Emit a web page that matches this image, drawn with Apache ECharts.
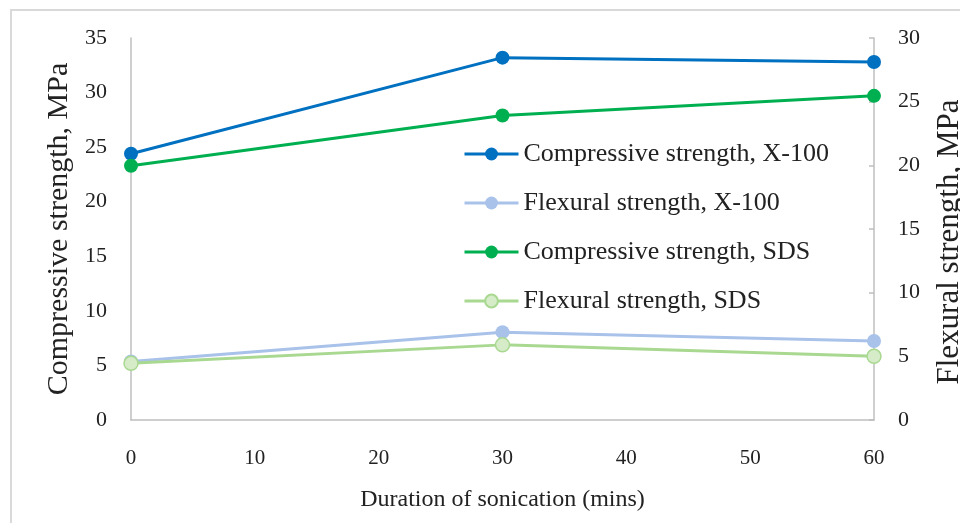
<!DOCTYPE html>
<html>
<head>
<meta charset="utf-8">
<script src="https://cdn.jsdelivr.net/npm/echarts@6/dist/echarts.min.js"></script>
<style>
html,body{margin:0;padding:0;background:#fff;}
#chart{width:960px;height:523px;}
</style>
</head>
<body>
<div id="chart"></div>
<script>
const durations = [0, 30, 60];
const compressiveX100 = [24.4, 33.2, 32.8];
const flexuralX100 = [4.6, 6.9, 6.2];
const compressiveSDS = [23.3, 27.9, 29.7];
const flexuralSDS = [4.45, 5.9, 5.0];
const seriesNames = ['Compressive strength, X-100', 'Flexural strength, X-100', 'Compressive strength, SDS', 'Flexural strength, SDS'];
const xTicks = [0, 10, 20, 30, 40, 50, 60];

const FONT = 'Liberation Serif';
const pair = (xs, ys) => xs.map((x, i) => [x, ys[i]]);

const chart = echarts.init(document.getElementById('chart'));
function mk(name, data, yIdx, line, fill, border) {
  return {
    name: name, type: 'line', yAxisIndex: yIdx, data: data,
    symbol: 'circle', symbolSize: 14,
    lineStyle: { color: line, width: 3 },
    itemStyle: { color: fill, borderColor: border, borderWidth: border === fill ? 0 : 1.5 },
    emphasis: { disabled: true }, animation: false
  };
}
const option = {
  animation: false,
  graphic: [{
    type: 'rect', shape: { x: 11, y: 10, width: 1000, height: 600 },
    style: { fill: 'none', stroke: '#d9d9d9', lineWidth: 2 }, silent: true
  }],
  grid: { left: 131, right: 86, top: 38, bottom: 103, containLabel: false, outerBoundsMode: 'none' },
  legend: {
    orient: 'vertical', left: 458, top: 136,
    itemWidth: 54, itemHeight: 16, itemGap: 23,
    lineStyle: { width: 3 },
    textStyle: { fontFamily: FONT, fontSize: 26, color: '#222' },
    data: seriesNames
  },
  xAxis: {
    type: 'value', min: xTicks[0], max: xTicks[xTicks.length - 1], interval: 10,
    axisLine: { lineStyle: { color: '#bfbfbf', width: 1.5 } },
    axisTick: { show: false }, splitLine: { show: false },
    axisLabel: { fontFamily: FONT, fontSize: 21, color: '#222', margin: 28 },
    name: 'Duration of sonication (mins)', nameLocation: 'middle', nameGap: 68,
    nameTextStyle: { fontFamily: FONT, fontSize: 24, color: '#222' }
  },
  yAxis: [{
    type: 'value', min: 0, max: 35, interval: 5, position: 'left',
    axisLine: { show: true, lineStyle: { color: '#bfbfbf', width: 1.5 } },
    axisTick: { show: false }, splitLine: { show: false },
    axisLabel: { fontFamily: FONT, fontSize: 22, color: '#222', margin: 24 },
    name: 'Compressive strength, MPa', nameLocation: 'middle', nameGap: 53,
    nameTextStyle: { fontFamily: FONT, fontSize: 30, color: '#222' }
  }, {
    type: 'value', min: 0, max: 30, interval: 5, position: 'right',
    axisLine: { show: true, lineStyle: { color: '#bfbfbf', width: 1.5 } },
    axisTick: { show: true, inside: true, length: 5, lineStyle: { color: '#bfbfbf', width: 1.5 } },
    splitLine: { show: false },
    axisLabel: { fontFamily: FONT, fontSize: 22, color: '#222', margin: 24 },
    name: 'Flexural strength, MPa', nameLocation: 'middle', nameGap: 60,
    nameTextStyle: { fontFamily: FONT, fontSize: 31, color: '#222', padding: [0, 26, 0, 0] }
  }],
  series: [
    mk(seriesNames[0], pair(durations, compressiveX100), 0, '#0070c0', '#0070c0', '#0070c0'),
    mk(seriesNames[1], pair(durations, flexuralX100), 1, '#a9c2ea', '#a9c2ea', '#a9c2ea'),
    mk(seriesNames[2], pair(durations, compressiveSDS), 0, '#00b050', '#00b050', '#00b050'),
    mk(seriesNames[3], pair(durations, flexuralSDS), 1, '#a9d891', '#d6ecc8', '#a9d891')
  ]
};
chart.setOption(option);
</script>
</body>
</html>
